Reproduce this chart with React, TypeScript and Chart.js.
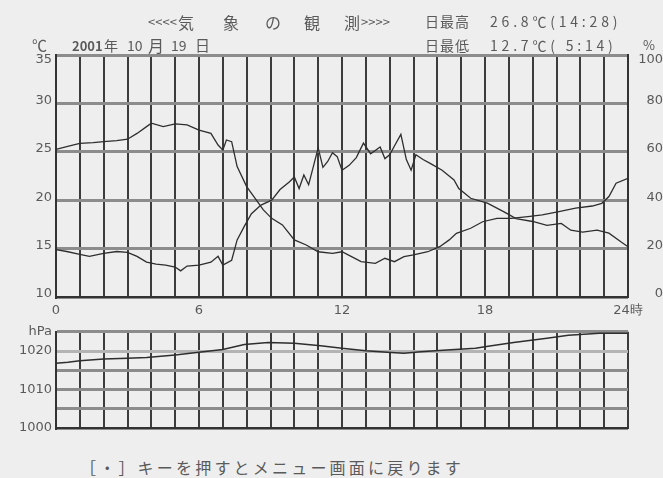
import React, { useEffect, useRef } from 'react';
import { Chart, registerables } from 'chart.js';

Chart.register(...registerables);

// Hour of day (0–24) for each reading
const tempHours = [0, 0.45, 1.0, 1.4, 2.0, 2.55, 3.0, 3.4, 3.8, 4.2, 4.6, 5.0, 5.23, 5.5, 6.0, 6.5, 6.8, 7.0, 7.37, 7.6, 7.9, 8.2, 8.6, 9.05, 9.4, 9.8, 10.0, 10.2, 10.4, 10.6, 10.8, 11.0, 11.2, 11.4, 11.6, 11.8, 12.0, 12.3, 12.6, 12.9, 13.2, 13.6, 13.8, 14.0, 14.2, 14.47, 14.7, 14.9, 15.1, 15.4, 15.7, 16.2, 16.7, 16.9, 17.4, 18.1, 18.8, 19.3, 20.0, 20.6, 21.2, 21.6, 22.1, 22.7, 23.2, 23.7, 24.0];
// Air temperature (°C)
const tempValues = [14.9, 14.7, 14.4, 14.2, 14.5, 14.7, 14.6, 14.2, 13.6, 13.4, 13.3, 13.1, 12.7, 13.2, 13.3, 13.6, 14.2, 13.3, 13.8, 15.9, 17.3, 18.6, 19.5, 20.0, 21.1, 21.9, 22.4, 21.2, 22.6, 21.6, 23.5, 25.4, 23.4, 24.0, 24.9, 24.5, 23.1, 23.6, 24.4, 25.9, 24.8, 25.5, 24.3, 24.7, 25.6, 26.8, 24.2, 23.1, 24.7, 24.2, 23.8, 23.1, 22.1, 21.2, 20.2, 19.7, 18.8, 18.1, 17.8, 17.4, 17.6, 16.9, 16.7, 16.9, 16.6, 15.7, 15.2];

const humidHours = [0, 0.45, 1.0, 1.56, 2.0, 2.55, 3.0, 3.4, 3.8, 4.0, 4.5, 5.0, 5.5, 6.0, 6.5, 6.8, 7.0, 7.15, 7.37, 7.6, 8.0, 8.4, 8.7, 9.05, 9.5, 10.0, 10.5, 11.0, 11.6, 12.0, 12.4, 12.8, 13.4, 13.8, 14.2, 14.6, 15.0, 15.6, 16.1, 16.5, 16.8, 17.4, 17.9, 18.5, 19.1, 19.8, 20.4, 21.1, 21.8, 22.5, 22.9, 23.2, 23.5, 24.0];
// Relative humidity (%)
const humidValues = [61.0, 62.1, 63.5, 63.8, 64.2, 64.6, 65.2, 67.6, 70.4, 71.8, 70.4, 71.5, 71.1, 69.0, 67.6, 62.8, 60.7, 64.9, 64.2, 53.9, 45.6, 40.1, 36.0, 32.5, 29.8, 23.6, 21.5, 18.7, 18.0, 18.7, 16.7, 14.6, 13.9, 16.0, 14.6, 16.7, 17.4, 18.7, 20.8, 23.6, 26.3, 28.4, 31.1, 32.5, 32.5, 33.2, 33.9, 35.3, 36.7, 37.6, 38.7, 41.5, 47.0, 49.0];

const pressHours = [0, 0.5, 1, 2, 3, 3.8, 5, 5.9, 7, 7.9, 8.9, 10, 11.1, 12, 13, 13.9, 14.6, 15.3, 16.4, 17.6, 18.2, 19.2, 20.6, 21.5, 22.8, 24];
// Station pressure (hPa)
const pressValues = [1016.8, 1017.1, 1017.5, 1017.9, 1018.1, 1018.3, 1019.0, 1019.6, 1020.4, 1021.7, 1022.2, 1022.0, 1021.4, 1020.7, 1020.1, 1019.7, 1019.4, 1019.8, 1020.3, 1020.7, 1021.3, 1022.2, 1023.3, 1024.1, 1024.6, 1024.6];

const hourLabels: Record<number, string> = { 0: '0', 6: '6', 12: '12', 18: '18', 24: '24時' };
const pressLabels: Record<number, string> = { 1025: 'hPa', 1020: '1020', 1010: '1010', 1000: '1000' };

const TEXT = '#5a5a5a';
const TICK_FONT = { family: 'DejaVu Sans', size: 13 };
const VGRID = '#3c3c3c';
const HGRID = '#8c8c8c';
const TRACE = '#2e2e2e';

const pts = (xs: number[], ys: number[]) => xs.map((x, i) => ({ x, y: ys[i] }));

// the top tick label of each scale sits just inside the frame
const insideTop = (max: number) => (v: number) => (v === max ? ['', String(v)] : String(v));

function useChart(ref: React.RefObject<HTMLCanvasElement | null>, build: () => any) {
  useEffect(() => {
    if (!ref.current) return;
    const chart = new Chart(ref.current, build());
    return () => chart.destroy();
  }, []);
}

function WeatherCharts() {
  const topRef = useRef<HTMLCanvasElement>(null);
  const bottomRef = useRef<HTMLCanvasElement>(null);

  useChart(topRef, () => ({
    type: 'line',
    data: {
      datasets: [
        { label: '気温', data: pts(tempHours, tempValues), yAxisID: 'y', borderColor: TRACE, borderWidth: 1.3, pointRadius: 0 },
        { label: '湿度', data: pts(humidHours, humidValues), yAxisID: 'y1', borderColor: TRACE, borderWidth: 1.3, pointRadius: 0 },
      ],
    },
    options: {
      responsive: false,
      animation: false,
      layout: { padding: { top: 55, left: 0, right: 0, bottom: 0 } },
      plugins: { legend: { display: false }, tooltip: { enabled: false } },
      scales: {
        x: {
          type: 'linear', min: 0, max: 24,
          afterFit: (s: any) => { s.height = 23; },
          ticks: {
            stepSize: 1, autoSkip: false, maxRotation: 0, padding: 6,
            color: TEXT, font: TICK_FONT,
            callback: (v: number) => hourLabels[v] ?? '',
          },
          grid: { color: VGRID, lineWidth: 2, drawTicks: false },
          border: { color: '#333', width: 2 },
        },
        y: {
          position: 'left', min: 10, max: 35,
          afterFit: (s: any) => { s.width = 56; },
          ticks: { stepSize: 5, color: TEXT, font: TICK_FONT, padding: 4, labelOffset: -3, callback: insideTop(35) },
          grid: { color: HGRID, lineWidth: 3, drawTicks: false },
          border: { color: '#333', width: 2 },
        },
        y1: {
          position: 'right', min: 0, max: 100,
          afterFit: (s: any) => { s.width = 35; },
          ticks: { stepSize: 20, color: TEXT, font: TICK_FONT, padding: 4, crossAlign: 'far', labelOffset: -3, callback: insideTop(100) },
          grid: { display: false, drawTicks: false },
          border: { color: '#333', width: 2 },
        },
      },
    },
  }));

  useChart(bottomRef, () => ({
    type: 'line',
    data: {
      datasets: [
        { label: '気圧', data: pts(pressHours, pressValues), borderColor: TRACE, borderWidth: 1.5, pointRadius: 0 },
      ],
    },
    options: {
      responsive: false,
      animation: false,
      layout: { padding: { top: 11, left: 0, right: 35, bottom: 12 } },
      plugins: { legend: { display: false }, tooltip: { enabled: false } },
      scales: {
        x: {
          type: 'linear', min: 0, max: 24,
          afterFit: (s: any) => { s.height = 0; },
          ticks: { stepSize: 1, autoSkip: false, display: false },
          grid: { color: VGRID, lineWidth: 2, drawTicks: false },
          border: { color: '#333', width: 2 },
        },
        y: {
          position: 'left', min: 1000, max: 1025,
          afterFit: (s: any) => { s.width = 56; },
          ticks: {
            stepSize: 5, color: TEXT, font: TICK_FONT, padding: 4,
            callback: (v: number) => pressLabels[v] ?? '',
          },
          grid: {
            color: (ctx: any) => (ctx.tick && ctx.tick.value === 1020 ? '#b4b4b4' : HGRID),
            lineWidth: 3, drawTicks: false,
          },
          border: { color: '#333', width: 2 },
        },
      },
    },
  }));

  return (
    <>
      <canvas ref={topRef} width={663} height={320} style={{ position: 'absolute', left: 0, top: 0 }} />
      <canvas ref={bottomRef} width={663} height={120} style={{ position: 'absolute', left: 0, top: 320 }} />
    </>
  );
}

const jp = '"Noto Sans CJK JP", sans-serif';

function Label({ x, y, size = 14, children, bold = false, spacing = 0 }: any) {
  return (
    <span
      style={{
        position: 'absolute', left: x, top: y, fontFamily: jp, fontSize: size, lineHeight: `${size}px`,
        color: TEXT, whiteSpace: 'pre', fontWeight: bold ? 700 : 400, letterSpacing: spacing,
      }}
    >
      {children}
    </span>
  );
}

export default function App() {
  useEffect(() => {
    document.body.style.margin = '0';
    document.body.style.background = '#eeeeee';
  }, []);

  return (
    <div style={{ position: 'relative', width: 663, height: 478, background: '#eeeeee', overflow: 'hidden' }}>
      <WeatherCharts />
      {/* header, first row */}
      <Label x={148} y={15} size={13}>{'<<<<'}</Label>
      <Label x={178} y={14} size={16}>気</Label>
      <Label x={223} y={14} size={16}>象</Label>
      <Label x={265} y={14} size={16}>の</Label>
      <Label x={304} y={14} size={16}>観</Label>
      <Label x={344} y={14} size={16}>測</Label>
      <Label x={361} y={15} size={13}>{'>>>>'}</Label>
      <Label x={425} y={14} size={14} spacing={1}>日最高</Label>
      <Label x={490} y={14} size={14} spacing={3.8}>26.8℃(14:28)</Label>
      {/* header, second row */}
      <Label x={32} y={37} size={15}>℃</Label>
      <Label x={72} y={39} size={13} bold>2001</Label>
      <Label x={104} y={38} size={14}>年</Label>
      <Label x={127} y={38} size={14}>10</Label>
      <Label x={148} y={37} size={16}>月</Label>
      <Label x={171} y={38} size={14}>19</Label>
      <Label x={195} y={37} size={15}>日</Label>
      <Label x={425} y={38} size={14} spacing={1}>日最低</Label>
      <Label x={490} y={38} size={14} spacing={3.8}>12.7℃( 5:14)</Label>
      <Label x={643} y={38} size={13}>%</Label>
      {/* footer */}
      <Label x={80} y={459} size={16} spacing={3.2}>［・］キーを押すとメニュー画面に戻ります</Label>
    </div>
  );
}
